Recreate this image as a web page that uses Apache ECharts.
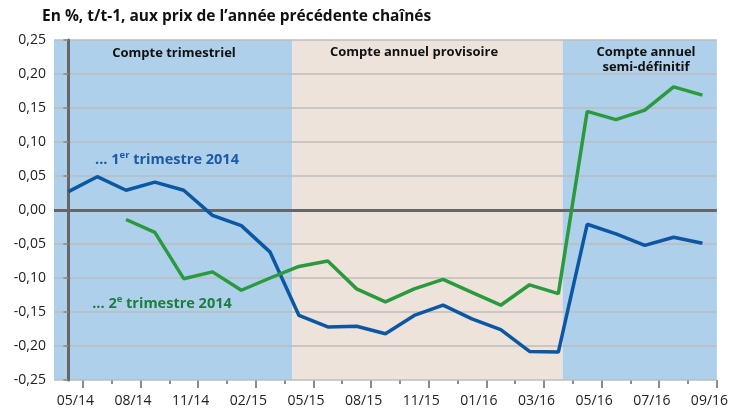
<!DOCTYPE html>
<html>
<head>
<meta charset="utf-8">
<script src="https://cdn.jsdelivr.net/npm/echarts@6/dist/echarts.min.js"></script>
<style>
  html, body { margin: 0; padding: 0; background: #fff; }
  #main { width: 731px; height: 409px; }
</style>
</head>
<body>
<div id="main"></div>
<script>
// données
var months = ['05/14', '', '08/14', '', '11/14', '', '02/15', '', '05/15', '', '08/15', '',
  '11/15', '', '01/16', '', '03/16', '', '05/16', '', '07/16', '', '09/16'];
var premierTrim = [0.027, 0.049, 0.029, 0.041, 0.029, -0.008, -0.023, -0.062, -0.155, -0.172,
  -0.171, -0.182, -0.155, -0.140, -0.160, -0.176, -0.208, -0.209, -0.021, -0.035, -0.052, -0.040, -0.049];
var deuxiemeTrim = [null, null, -0.014, -0.033, -0.101, -0.091, -0.118, -0.100, -0.083, -0.075,
  -0.116, -0.135, -0.116, -0.102, -0.121, -0.140, -0.110, -0.123, 0.145, 0.133, 0.147, 0.181, 0.169];
// bornes des zones (en position de catégorie)
var zones = [
  { from: -0.5, to: 7.77, color: '#AFD0EA' },
  { from: 7.77, to: 17.15, color: '#EDE3DB' },
  { from: 17.15, to: 22.5, color: '#AFD0EA' }
];

var font = '"Open Sans", Lato, sans-serif';
var chart = echarts.init(document.getElementById('main'));

var option = {
  animation: false,
  textStyle: { fontFamily: font },
  grid: { left: 54, right: 13, top: 40, bottom: 29 },
  xAxis: [
    {
      type: 'category',
      data: months,
      boundaryGap: true,
      axisLine: { show: false, onZero: false },
      axisTick: {
        show: true, length: 8, lineStyle: { color: '#666', width: 1.5 },
        interval: function (i) { return i % 2 === 1; }
      },
      axisLabel: {
        interval: function (i) { return i % 2 === 0; },
        color: '#222', fontSize: 14, fontFamily: font, margin: 14, padding: [0, 0, 0, 14]
      },
      splitLine: { show: false }
    },
    {
      type: 'category',
      data: months,
      position: 'bottom',
      boundaryGap: true,
      axisLine: { show: false, onZero: false },
      axisTick: {
        show: true, length: 4, lineStyle: { color: '#666', width: 1.5 },
        interval: function (i) { return i % 2 === 0 && i > 0; }
      },
      axisLabel: { show: false }
    },
    {
      type: 'value', min: -0.5, max: 22.5, show: false
    }
  ],
  yAxis: {
    type: 'value',
    min: -0.25, max: 0.25, interval: 0.05,
    z: 2,
    axisLine: { show: true, lineStyle: { color: '#666', width: 3 } },
    axisTick: { show: true, length: 5, lineStyle: { color: '#888', width: 1.5 } },
    axisLabel: {
      color: '#222', fontSize: 14, fontFamily: font, margin: 8,
      formatter: function (v) { return v.toFixed(2).replace('.', ','); }
    },
    splitLine: { show: true, lineStyle: { color: '#BDBDBD', width: 1.5 } }
  },
  series: [
    {
      type: 'line', xAxisIndex: 2, data: [], z: 1, silent: true,
      markArea: {
        silent: true,
        data: zones.map(function (z) {
          return [{ xAxis: z.from, itemStyle: { color: z.color } }, { xAxis: z.to }];
        })
      }
    },
    {
      name: '1er trimestre 2014',
      type: 'line', data: premierTrim, z: 4,
      showSymbol: false, symbol: 'none',
      lineStyle: { color: '#0B57A4', width: 3.5 },
      markLine: {
        silent: true, symbol: 'none', label: { show: false },
        lineStyle: { color: '#666', width: 3, type: 'solid' },
        data: [{ yAxis: 0 }], z: 3
      }
    },
    {
      name: '2e trimestre 2014',
      type: 'line', data: deuxiemeTrim, z: 4,
      showSymbol: false, symbol: 'none', connectNulls: false,
      lineStyle: { color: '#2B9A3F', width: 3.5 }
    }
  ],
  graphic: [
    {
      type: 'text', x: 42, y: 17,
      style: { text: 'En %, t/t-1, aux prix de l\u2019année précédente chaînés',
        font: 'bold 15.5px ' + font, fill: '#111', verticalAlign: 'middle' }
    },
    {
      type: 'text', x: 174, y: 53, z: 10,
      style: { text: 'Compte trimestriel', font: 'bold 13px ' + font, fill: '#111',
        align: 'center', verticalAlign: 'middle' }
    },
    {
      type: 'text', x: 414, y: 52, z: 10,
      style: { text: 'Compte annuel provisoire', font: 'bold 13px ' + font, fill: '#111',
        align: 'center', verticalAlign: 'middle' }
    },
    {
      type: 'text', x: 646, y: 60, z: 10,
      style: { text: 'Compte annuel\nsemi-définitif', font: 'bold 13px ' + font, fill: '#111',
        align: 'center', verticalAlign: 'middle', lineHeight: 15 }
    },
    {
      type: 'text', x: 167, y: 160, z: 10,
      style: {
        text: '... 1{sup|er} trimestre 2014',
        font: 'bold 14.5px ' + font, fill: '#1C5AA6',
        align: 'center', verticalAlign: 'middle',
        rich: { sup: { fontSize: 9.5, fontWeight: 'bold', fontFamily: font, fill: '#1C5AA6', padding: [0, 0, 9, 0] } }
      }
    },
    {
      type: 'text', x: 162, y: 304, z: 10,
      style: {
        text: '... 2{sup|e} trimestre 2014',
        font: 'bold 14.5px ' + font, fill: '#1E7D3E',
        align: 'center', verticalAlign: 'middle',
        rich: { sup: { fontSize: 9.5, fontWeight: 'bold', fontFamily: font, fill: '#1E7D3E', padding: [0, 0, 9, 0] } }
      }
    }
  ]
};

chart.setOption(option);
</script>
</body>
</html>
